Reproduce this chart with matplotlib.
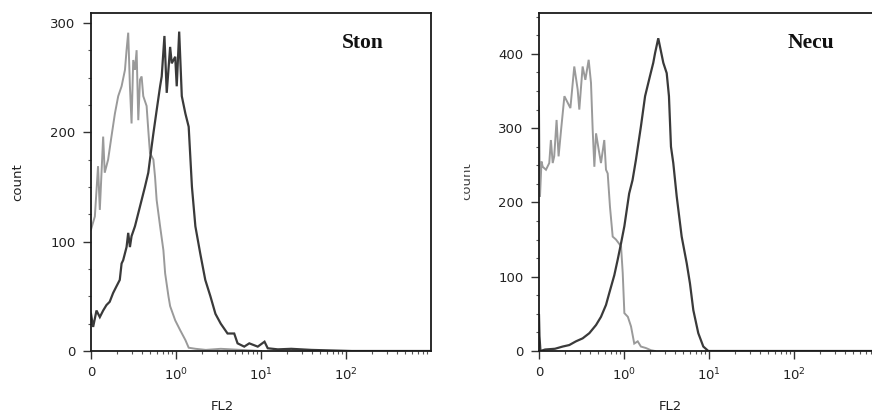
import matplotlib
matplotlib.use("Agg")
import matplotlib.pyplot as plt
from matplotlib.ticker import FixedLocator, MultipleLocator, LogLocator, NullFormatter
from matplotlib.transforms import Bbox, TransformedBbox

# ---------------- data ----------------
ston_ctrl_x = [0.100, 0.111, 0.121, 0.127, 0.139, 0.145, 0.159, 0.174, 0.191, 0.209,
               0.229, 0.251, 0.262, 0.274, 0.287, 0.300, 0.314, 0.329, 0.344, 0.360,
               0.377, 0.394, 0.412, 0.451, 0.472, 0.494, 0.542, 0.567, 0.592, 0.650,
               0.711, 0.745, 0.815, 0.853, 0.979, 1.12, 1.29, 1.41, 1.70, 2.24,
               3.36, 5.80, 10.0]
ston_ctrl_y = [111, 123, 169, 129, 196, 163, 175, 196, 217, 233,
               242, 257, 275, 291, 242, 208, 266, 257, 275, 211,
               248, 251, 233, 224, 202, 181, 175, 159, 138, 114,
               92, 71, 50, 41, 28, 19, 10, 3, 2, 1,
               2, 1, 0]

ston_x = [0.100, 0.106, 0.116, 0.127, 0.139, 0.152, 0.166, 0.182, 0.199, 0.218,
          0.229, 0.239, 0.262, 0.274, 0.287, 0.300, 0.329, 0.360, 0.394, 0.431,
          0.472, 0.517, 0.542, 0.592, 0.650, 0.679, 0.731, 0.778, 0.853, 0.891,
          0.979, 1.02, 1.09, 1.17, 1.29, 1.41, 1.54, 1.69, 1.93, 2.21,
          2.54, 2.91, 3.36, 4.04, 4.84, 5.30, 6.35, 7.28, 9.16, 11.0,
          12.0, 15.8, 22.7, 39.1, 67.0, 117, 1000]
ston_y = [34, 22, 37, 31, 37, 42, 45, 53, 59, 65,
          80, 83, 95, 108, 95, 105, 114, 126, 138, 150,
          163, 187, 199, 220, 242, 251, 288, 236, 278, 263,
          269, 242, 292, 233, 217, 205, 150, 114, 89, 65,
          50, 34, 25, 16, 16, 7, 4, 7, 4, 8.5,
          2.5, 1.5, 2, 1, 0.5, 0, 0]

necu_ctrl_x = [0.100, 0.1027, 0.107, 0.1106, 0.1208, 0.132, 0.138, 0.145, 0.151, 0.161,
               0.170, 0.182, 0.199, 0.218, 0.234, 0.260, 0.285, 0.298, 0.326, 0.351,
               0.384, 0.409, 0.428, 0.448, 0.469, 0.504, 0.536, 0.586, 0.614, 0.643,
               0.684, 0.736, 0.805, 0.923, 0.966, 1.01, 1.11, 1.21, 1.32, 1.45,
               1.58, 1.81, 2.08, 2.32]
necu_ctrl_y = [329, 208, 255, 248, 244, 253, 284, 253, 262, 311,
               262, 298, 343, 334, 327, 383, 352, 325, 383, 365,
               392, 361, 298, 248, 293, 271, 253, 284, 244, 239,
               194, 154, 150, 141, 105, 51, 46, 33, 10, 13,
               6, 4, 1, 0]

necu_x = [0.100, 0.1013, 0.104, 0.118, 0.154, 0.190, 0.227, 0.272, 0.326, 0.391,
          0.469, 0.536, 0.614, 0.671, 0.769, 0.843, 0.923, 1.01, 1.15, 1.26,
          1.38, 1.58, 1.77, 2.02, 2.21, 2.32, 2.53, 2.90, 3.18, 3.38,
          3.57, 3.80, 4.17, 4.77, 5.47, 5.97, 6.54, 7.48, 8.57, 9.82, 1000]
necu_y = [48, 20, 0, 2, 3, 6, 8, 13, 17, 24,
          35, 46, 62, 78, 102, 123, 145, 168, 212, 230,
          257, 302, 343, 370, 388, 401, 421, 388, 374, 343,
          275, 253, 208, 154, 118, 91, 55, 24, 6, 0, 0]

panel_titles = ["Ston", "Necu"]
x_tick_values = [0.1, 1, 10, 100]
x_tick_labels = ["0", "$10^{0}$", "$10^{1}$", "$10^{2}$"]
y_limits = [309, 455]
x_label = "FL2"
y_label = "count"

# ---------------- styling ----------------
LIGHT = "#9a9a9a"
DARK = "#3a3a3a"
TXT = "#222222"
plt.rcParams["font.family"] = ["DejaVu Sans"]
plt.rcParams["mathtext.fontset"] = "dejavusans"

W, H = 872, 416
fig = plt.figure(figsize=(W / 100, H / 100), dpi=100)

ax_w = 340 / W
ax_b = (H - 351) / H
ax_h = 338 / H
axes = [fig.add_axes([91 / W, ax_b, ax_w, ax_h]),
        fig.add_axes([539 / W, ax_b, ax_w, ax_h])]

series = [(ston_ctrl_x, ston_ctrl_y, ston_x, ston_y),
          (necu_ctrl_x, necu_ctrl_y, necu_x, necu_y)]

for ax, (cx, cy, sx, sy), title, ymax in zip(axes, series, panel_titles, y_limits):
    ax.plot(cx, cy, color=LIGHT, lw=1.4, solid_joinstyle="miter")
    ax.plot(sx, sy, color=DARK, lw=1.6, solid_joinstyle="miter")
    ax.set_xscale("log")
    ax.set_xlim(0.1, 1000)
    ax.set_ylim(0, ymax)
    ax.xaxis.set_major_locator(FixedLocator(x_tick_values))
    ax.set_xticklabels(x_tick_labels)
    ax.xaxis.set_minor_locator(LogLocator(base=10, subs=range(2, 10), numticks=20))
    ax.xaxis.set_minor_formatter(NullFormatter())
    ax.yaxis.set_major_locator(MultipleLocator(100))
    ax.yaxis.set_minor_locator(MultipleLocator(25))
    ax.tick_params(which="major", direction="out", length=6, width=1.0,
                   color="#333333", labelsize=9.5, labelcolor=TXT, pad=5)
    ax.tick_params(which="minor", direction="out", length=2.5, width=0.8, color="#555555")
    ax.tick_params(axis="x", which="major", pad=5)
    for sp in ax.spines.values():
        sp.set_linewidth(1.3)
        sp.set_color("#1a1a1a")
    ax.text(0.80, 0.911, title, transform=ax.transAxes, ha="center", va="center",
            fontsize=15.5, fontweight="bold", family=["Liberation Serif"], color="#111111")
    ax.set_xlabel(x_label, fontsize=9.5, color=TXT)
    ax.xaxis.set_label_coords(0.385, -0.145)

fig.text(18 / W, (H - 182) / H, y_label, rotation=90, ha="center", va="center",
         fontsize=9.5, color=TXT)
t2 = fig.text(467 / W, (H - 181) / H, y_label, rotation=90, ha="center", va="center",
              fontsize=9.5, color="#444444")
t2.set_clip_on(True)
t2.set_clip_box(TransformedBbox(Bbox([[463.5 / W, 0], [1, 1]]), fig.transFigure))

fig.savefig("out.png", dpi=100)
